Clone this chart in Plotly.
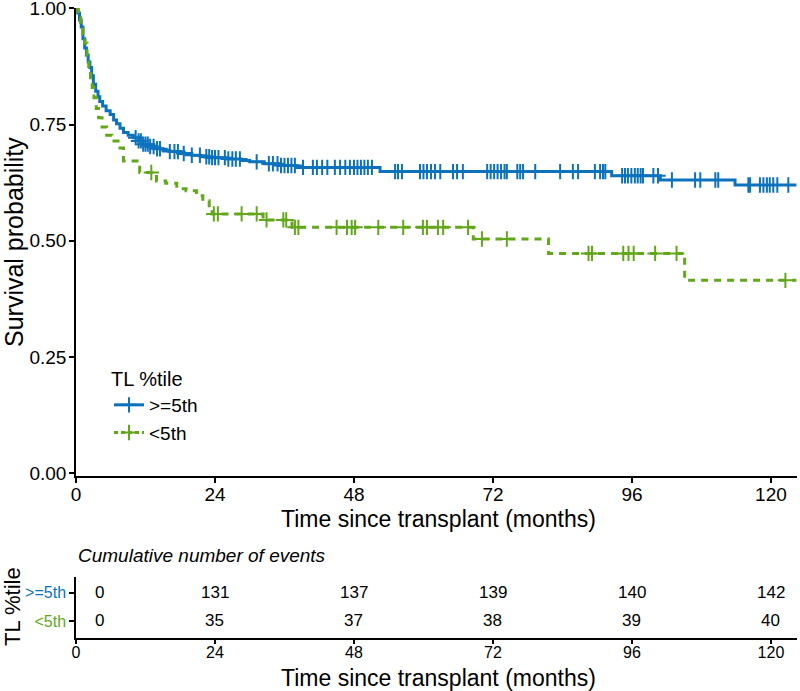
import numpy as np
import plotly.graph_objects as go

# ---------------- data ----------------
blue_t = [0, 0.3, 0.6, 0.9, 1.2, 1.5, 1.8, 2.1, 2.4, 2.7, 3.0, 3.4, 3.8, 4.1, 4.6, 5.2, 5.9, 6.5,
          7.0, 7.6, 8.2, 9.0, 9.9, 10.8, 11.6, 12.5, 13.9, 15.0, 16.2, 18.0, 20.0, 21.5, 23.1,
          26.0, 28.5, 30.0, 32.5, 35.0, 38.0, 52.5, 92.5, 100.9, 113.8, 124.4]
blue_s = [1.0, 0.99, 0.975, 0.96, 0.935, 0.915, 0.90, 0.885, 0.873, 0.855, 0.837, 0.822, 0.81,
          0.80, 0.79, 0.78, 0.772, 0.76, 0.752, 0.742, 0.733, 0.727, 0.722, 0.715, 0.708, 0.703,
          0.698, 0.695, 0.692, 0.688, 0.684, 0.681, 0.679, 0.676, 0.673, 0.670, 0.666, 0.662,
          0.658, 0.649, 0.640, 0.631, 0.620, 0.620]
blue_censor = [10.3, 10.8, 11.2, 11.6, 12.0, 12.4, 12.8, 13.4, 14.0, 14.5, 16.2, 17.0, 17.6, 18.6,
               20.0, 21.4, 22.5, 23.0, 23.5, 24.0, 24.6, 25.7, 26.3, 27.0, 27.6, 28.3, 31.2, 33.3,
               34.0, 34.8, 35.4, 36.0, 36.6, 37.2, 37.8, 39.2, 40.9, 41.6, 42.5, 43.4, 44.7, 45.6,
               46.5, 47.3, 48.0, 48.6, 49.2, 49.8, 50.4, 51.1, 55.1, 55.6, 56.3, 59.4, 60.0, 60.6,
               61.3, 62.0, 62.9, 65.1, 65.8, 66.8, 71.0, 71.6, 72.2, 72.8, 73.4, 74.0, 74.4, 76.2,
               76.7, 77.2, 79.3, 83.6, 85.8, 86.7, 89.6, 90.5, 91.0, 91.4, 94.3, 94.8, 95.3, 95.9,
               96.5, 97.0, 97.5, 97.9, 99.7, 100.5, 102.9, 106.9, 107.8, 110.4, 110.9, 116.1,
               116.4, 118.1, 118.7, 119.3, 119.8, 120.4, 121.1, 123.0]

green_t = [0, 0.4, 0.8, 1.2, 1.55, 1.9, 2.2, 2.5, 2.8, 3.1, 3.5, 3.9, 4.5, 5.3, 6.2, 7.6, 8.2,
           11.0, 13.9, 15.5, 17.4, 19.0, 20.8, 21.9, 23.0, 23.5, 32.3, 37.3, 68.6, 81.6, 105.1, 124.4]
green_s = [1.0, 0.98, 0.96, 0.944, 0.925, 0.90, 0.875, 0.851, 0.83, 0.808, 0.785, 0.765, 0.745,
           0.727, 0.715, 0.70, 0.672, 0.647, 0.629, 0.624, 0.612, 0.608, 0.597, 0.586, 0.571,
           0.558, 0.545, 0.529, 0.504, 0.473, 0.415, 0.415]
green_censor = [13.0, 23.8, 24.5, 28.6, 31.2, 32.9, 35.8, 36.3, 37.8, 38.4, 45.0, 46.8, 47.6, 48.2,
                52.2, 56.5, 59.9, 60.6, 62.5, 63.4, 67.7, 70.1, 74.4, 88.5, 89.1, 94.5, 95.4,
                96.3, 100.0, 103.7, 122.5]

groups = [">=5th", "<5th"]
risk_times = [0, 24, 48, 72, 96, 120]
events_hi = [0, 131, 137, 139, 140, 142]
events_lo = [0, 35, 37, 38, 39, 40]
x_ticks = [0, 24, 48, 72, 96, 120]
y_ticks = [0.0, 0.25, 0.5, 0.75, 1.0]
y_ticklabels = ["0.00", "0.25", "0.50", "0.75", "1.00"]

BLUE = "#0C72BC"
GREEN = "#62A71A"
FONT = "Liberation Sans, Arial, sans-serif"


def step_at(ts, ss, c):
    ts = np.asarray(ts)
    idx = np.searchsorted(ts, c, side="right") - 1
    return [ss[i] for i in idx]


fig = go.Figure()

# curves
fig.add_trace(go.Scatter(x=blue_t, y=blue_s, mode="lines", line=dict(color=BLUE, width=3, shape="hv"),
                         showlegend=False, xaxis="x", yaxis="y"))
fig.add_trace(go.Scatter(x=green_t, y=green_s, mode="lines",
                         line=dict(color=GREEN, width=3, shape="hv", dash="7px,6px"),
                         showlegend=False, xaxis="x", yaxis="y"))
# censor marks
fig.add_trace(go.Scatter(x=blue_censor, y=step_at(blue_t, blue_s, blue_censor), mode="markers",
                         marker=dict(symbol="cross-thin", size=11, line=dict(color=BLUE, width=2)),
                         showlegend=False, xaxis="x", yaxis="y"))
fig.add_trace(go.Scatter(x=green_censor, y=step_at(green_t, green_s, green_censor), mode="markers",
                         marker=dict(symbol="cross-thin", size=11, line=dict(color=GREEN, width=2)),
                         showlegend=False, xaxis="x", yaxis="y"))
# legend entries
fig.add_trace(go.Scatter(x=[None], y=[None], mode="lines+markers", name=groups[0],
                         line=dict(color=BLUE, width=3),
                         marker=dict(symbol="cross-thin", size=11, line=dict(color=BLUE, width=2)),
                         xaxis="x", yaxis="y"))
fig.add_trace(go.Scatter(x=[None], y=[None], mode="lines+markers", name=groups[1],
                         line=dict(color=GREEN, width=3, dash="4px,3px"),
                         marker=dict(symbol="cross-thin", size=11, line=dict(color=GREEN, width=2)),
                         xaxis="x", yaxis="y"))

# layout geometry (pixels)
W, H = 800, 691
ML, MR, MT, MB = 76, 3, 8, 53
PH = H - MT - MB
PW = W - ML - MR


def py(yp):  # pixel y -> paper y
    return (H - MB - yp) / PH


def px(xp):
    return (xp - ML) / PW


ROW_HI, ROW_LO = 0.74, 0.28
annotations = []
for row_y, vals in ((ROW_HI, events_hi), (ROW_LO, events_lo)):
    for i, (t, v) in enumerate(zip(risk_times, vals)):
        annotations.append(dict(text=str(v), x=t, y=row_y, xref="x2", yref="y2", showarrow=False,
                                xanchor="center", yanchor="middle", xshift=23 if t == 0 else 0,
                                font=dict(family=FONT, size=17, color="black")))

annotations += [
    dict(text="Survival probability", x=px(14), y=py(242), xref="paper", yref="paper",
         textangle=-90, showarrow=False, xanchor="center", yanchor="middle",
         font=dict(family=FONT, size=25)),
    dict(text="Time since transplant (months)", x=px(438), y=py(519), xref="paper", yref="paper",
         showarrow=False, xanchor="center", yanchor="middle", font=dict(family=FONT, size=23)),
    dict(text="Cumulative number of events", x=px(76), y=py(555), xref="paper", yref="paper",
         showarrow=False, xanchor="left", yanchor="middle",
         font=dict(family=FONT, size=19, style="italic")),
    dict(text="TL %tile", x=px(12), y=py(607), xref="paper", yref="paper",
         textangle=-90, showarrow=False, xanchor="center", yanchor="middle",
         font=dict(family=FONT, size=22)),
    dict(text="Time since transplant (months)", x=px(438), y=py(678), xref="paper", yref="paper",
         showarrow=False, xanchor="center", yanchor="middle", font=dict(family=FONT, size=23)),
]

axis_common = dict(showline=True, linecolor="black", linewidth=1.5, ticks="outside", ticklen=5,
                   tickwidth=1.5, tickcolor="black", showgrid=False, zeroline=False,
                   automargin=False, ticklabeloverflow="allow",
                   tickfont=dict(family=FONT, size=19, color="black"))

fig.update_layout(
    template="none",
    width=W, height=H,
    margin=dict(l=ML, r=MR, t=MT, b=MB, autoexpand=False),
    paper_bgcolor="white", plot_bgcolor="white",
    font=dict(family=FONT, color="black"),
    xaxis=dict(domain=[0, 1], range=[0, 124.5], tickvals=x_ticks, anchor="y",
               ticklabelstandoff=-5, **axis_common),
    yaxis=dict(domain=[py(476), 1], range=[-0.006, 1.001], tickvals=y_ticks, ticktext=y_ticklabels,
               anchor="x", ticklabelstandoff=-1, **axis_common),
    xaxis2=dict(domain=[0, 1], range=[0, 124.5], tickvals=x_ticks, anchor="y2",
                ticklabelstandoff=-5,
                **{**axis_common, "ticklen": 4, "tickfont": dict(family=FONT, size=16, color="black")}),
    yaxis2=dict(domain=[0, py(577)], range=[0, 1], tickvals=[ROW_HI, ROW_LO],
                ticktext=[f"<span style='color:{BLUE}'>{groups[0]}</span>",
                          f"<span style='color:{GREEN}'>{groups[1]}</span>"],
                anchor="x2", **{**axis_common, "tickfont": dict(family=FONT, size=16)}),
    legend=dict(x=px(109), y=py(360), xanchor="left", yanchor="top",
                title=dict(text="TL %tile", font=dict(family=FONT, size=20)),
                font=dict(family=FONT, size=19), bgcolor="rgba(0,0,0,0)", tracegroupgap=0),
    annotations=annotations,
)

fig.write_html("out.html", config={"displayModeBar": False},
               post_script="document.body.style.margin='0px';document.body.style.overflow='hidden';")
